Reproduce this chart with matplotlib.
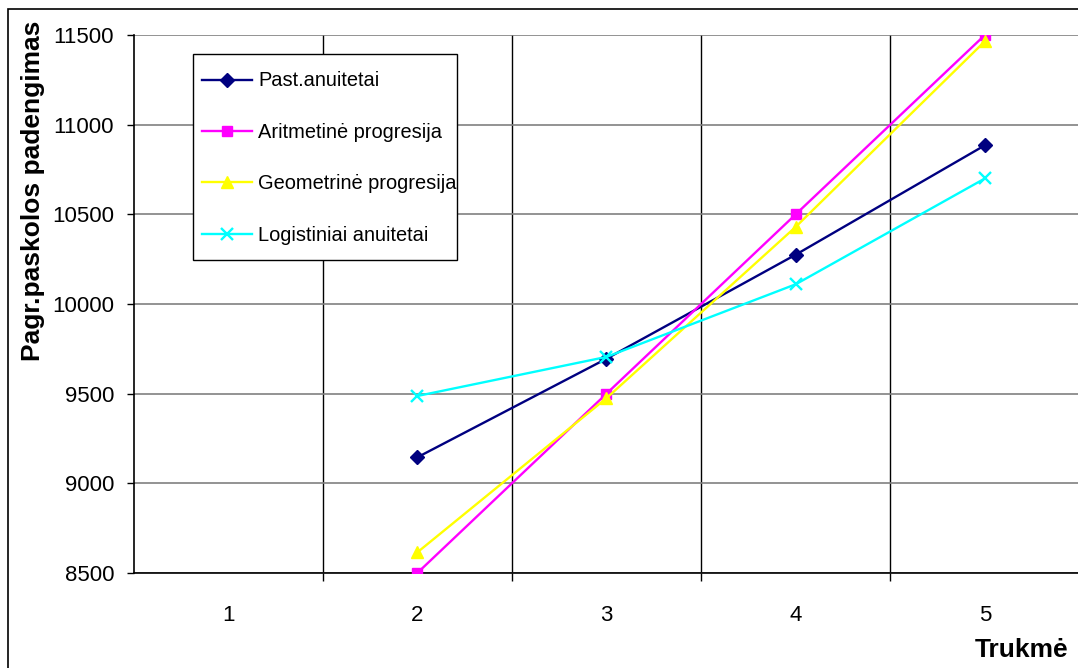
import matplotlib.pyplot as plt
from matplotlib.patches import Rectangle

# Dati
trukme = [1, 2, 3, 4, 5]
past_anuitetai = [None, 9145, 9695, 10275, 10885]
aritmetine = [None, 8500, 9500, 10500, 11500]
geometrine = [None, 8615, 9475, 10430, 11465]
logistiniai = [None, 9487, 9705, 10110, 10700]

series = [
    ("Past.anuitetai", past_anuitetai, "#000080", "D", 7.5),
    ("Aritmetinė progresija", aritmetine, "#FF00FF", "s", 7.5),
    ("Geometrinė progresija", geometrine, "#FFFF00", "^", 8.5),
    ("Logistiniai anuitetai", logistiniai, "#00FFFF", "x", 9),
]

plt.rcParams.update({
    "font.family": ["Liberation Sans", "DejaVu Sans"],
    "font.size": 16,
})

W, H = 1078, 668
fig = plt.figure(figsize=(W / 100, H / 100), dpi=100)

# cornice esterna della figura
fig.patches.append(Rectangle((8 / W, -0.1), 1.2, 1 - 9.5 / H + 0.1, transform=fig.transFigure,
                             fill=False, edgecolor="black", linewidth=1.2))

left, right, top, bottom = 133.5, 1079.5, 35, 573
ax = fig.add_axes([left / W, 1 - bottom / H, (right - left) / W, (bottom - top) / H])

for name, vals, color, marker, ms in series:
    xs = [x for x, v in zip(trukme, vals) if v is not None]
    ys = [v for v in vals if v is not None]
    ax.plot(xs, ys, color=color, lw=1.7, marker=marker, ms=ms, mew=1.7 if marker == "x" else 1,
            mec=color, mfc=color, label=name, zorder=3)

ax.set_xlim(0.5, 5.5)
ax.set_ylim(8500, 11500)
ax.set_yticks(range(8500, 11501, 500))
ax.set_xticks(trukme)
ax.set_xticks([1.5, 2.5, 3.5, 4.5], minor=True)
ax.tick_params(axis="x", which="major", length=0, pad=23)
ax.tick_params(axis="x", which="minor", length=6, width=1, direction="out")
ax.tick_params(axis="y", length=5, width=1, direction="out", pad=9)

ax.grid(True, axis="y", color="#808080", lw=1.2)
ax.grid(True, axis="x", which="minor", color="black", lw=1)
ax.set_axisbelow(True)
for s in ["top", "right"]:
    ax.spines[s].set_visible(False)
ax.spines["left"].set_linewidth(1.2)
ax.spines["bottom"].set_linewidth(1.2)

fig.text(33 / W, 1 - 191 / H, "Pagr.paskolos padengimas", rotation=90, fontsize=19,
         fontweight="bold", ha="center", va="center")
fig.text(1068 / W, 1 - 650 / H, "Trukmė", fontsize=19, fontweight="bold", ha="right", va="center")

# riquadro della legenda (bianco, bordo nero) disegnato a parte
ax.add_patch(Rectangle((193 / W, 1 - 260 / H), (457 - 193) / W, (260 - 54) / H,
                       transform=fig.transFigure, facecolor="white", edgecolor="black",
                       lw=1.0, zorder=4))
leg = ax.legend(loc="upper left", bbox_to_anchor=(202 / W, 1 - 71.5 / H), bbox_transform=fig.transFigure,
                frameon=False, fontsize=14.4,
                labelspacing=1.62, handlelength=2.5, handletextpad=0.3, borderpad=0,
                borderaxespad=0)
leg.set_zorder(5)

fig.savefig("out.png", dpi=100)
